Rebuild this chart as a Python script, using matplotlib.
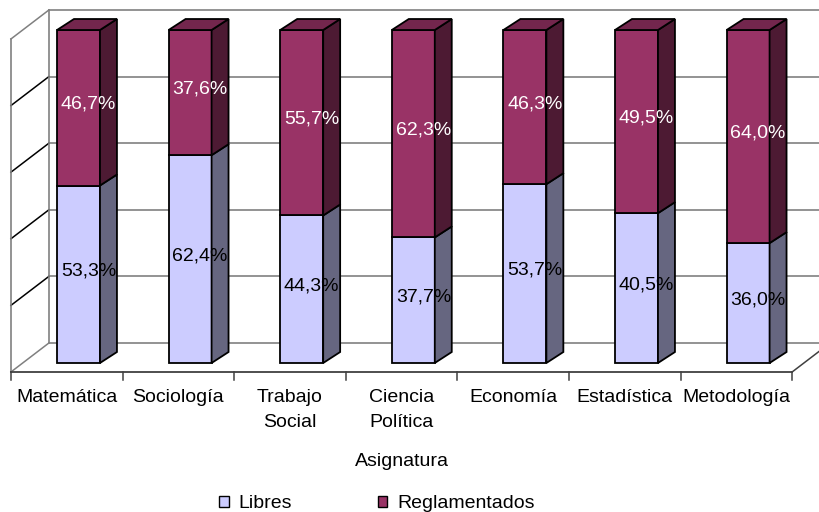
import matplotlib.pyplot as plt
from matplotlib.patches import Polygon, Patch

asignaturas = ['Matemática', 'Sociología', 'Trabajo\nSocial', 'Ciencia\nPolítica',
               'Economía', 'Estadística', 'Metodología']
libres = [53.3, 62.4, 44.3, 37.7, 53.7, 40.5, 36.0]
reglamentados = [46.7, 37.6, 55.7, 62.3, 46.3, 49.5, 64.0]
series = ['Libres', 'Reglamentados']

c_lib, c_lib_side = '#CCCCFF', '#666680'
c_reg, c_reg_side, c_reg_top = '#993366', '#4D1A33', '#73264D'
gris = '#808080'

plt.rcParams['font.family'] = ['Liberation Sans', 'DejaVu Sans']
fs = 14

fig = plt.figure(figsize=(8.19, 5.12), dpi=100)
ax = fig.add_axes([0, 0, 1, 1])
# escala: 1 categoria = 111.6 px, 1 % = 3.33 px
ax.set_xlim(-78.5 / 111.6, (819 - 78.5) / 111.6)
ax.set_ylim((363 - 512) / 3.33, 363 / 3.33)
ax.axis('off')

n = len(asignaturas)
x = list(range(n))
w = 0.385              # ancho de barra
bdx, bdy = 0.152, 3.3  # profundidad de barra
f0 = 0.31              # posicion de las barras en la profundidad
DX, DY = 0.34, 8.7     # profundidad total

# 100% apilado
tot = [a + b for a, b in zip(libres, reglamentados)]
p_lib = [a / t * 100 for a, t in zip(libres, tot)]
p_reg = [b / t * 100 for b, t in zip(reglamentados, tot)]

# paredes y piso
fl = -0.5 - f0 * DX
fr = n - 0.5 - f0 * DX
y0 = -f0 * DY
grid = [0, 20, 40, 60, 80, 100]
for g in grid:
    ax.plot([fl + DX, fr + DX + 1], [y0 + DY + g] * 2, color=gris, lw=1.2, zorder=1)
    ax.plot([fl, fl + DX], [y0 + g, y0 + DY + g],
            color=gris if g in (0, 100) else 'black', lw=1.1, zorder=1)
ax.plot([fl, fl], [y0, y0 + 100], color=gris, lw=1.2, zorder=1)
ax.plot([fl + DX, fl + DX], [y0 + DY, y0 + DY + 100], color=gris, lw=1.2, zorder=1)
ax.plot([fr, fr + DX], [y0, y0 + DY], color='#404040', lw=1.1, zorder=1)
ax.plot([fl, fr], [y0, y0], color='#404040', lw=1.3, zorder=1)
for k in range(n + 1):
    ax.plot([fl + k, fl + k], [y0, y0 - 2.4], color='#404040', lw=1.1, zorder=1)

# barras
kw = dict(edgecolor='black', linewidth=1.3, zorder=3)
ax.bar(x, p_lib, w, color=c_lib, **kw)
ax.bar(x, p_reg, w, bottom=p_lib, color=c_reg, **kw)
for i in x:
    xr = i + w / 2
    h1 = p_lib[i]
    h2 = p_lib[i] + p_reg[i]
    ax.add_patch(Polygon([(xr, 0), (xr, h1), (xr + bdx, h1 + bdy), (xr + bdx, bdy)],
                         facecolor=c_lib_side, **kw))
    ax.add_patch(Polygon([(xr, h1), (xr, h2), (xr + bdx, h2 + bdy), (xr + bdx, h1 + bdy)],
                         facecolor=c_reg_side, **kw))
    ax.add_patch(Polygon([(i - w / 2, h2), (xr, h2), (xr + bdx, h2 + bdy),
                          (i - w / 2 + bdx, h2 + bdy)], facecolor=c_reg_top, **kw))
    ax.text(i + 0.09, h1 / 2 + 1.0, f'{libres[i]:.1f}%'.replace('.', ','),
            ha='center', va='center', fontsize=fs, color='black', zorder=5)
    ax.text(i + 0.09, h1 + p_reg[i] / 2 + 1.0, f'{reglamentados[i]:.1f}%'.replace('.', ','),
            ha='center', va='center', fontsize=fs, color='white', zorder=5)

# etiquetas del eje
for k, lab in enumerate(asignaturas):
    ax.text(fl + k + 0.5, y0 - 5.2, lab, ha='center', va='top', fontsize=fs,
            linespacing=1.6)
ax.text((fl + fr) / 2, (363 - 462) / 3.33, 'Asignatura', ha='center', va='center',
        fontsize=fs)

handles = [Patch(facecolor=c_lib, edgecolor='black', linewidth=1.0),
           Patch(facecolor=c_reg, edgecolor='black', linewidth=1.0)]
ax.legend(handles, series, loc='center', bbox_to_anchor=(0.460, 0.016), ncol=2,
          frameon=False, fontsize=fs, handlelength=0.5, handleheight=0.5,
          handletextpad=0.5, columnspacing=4.4, borderpad=0)

fig.savefig('out.png', dpi=100)
